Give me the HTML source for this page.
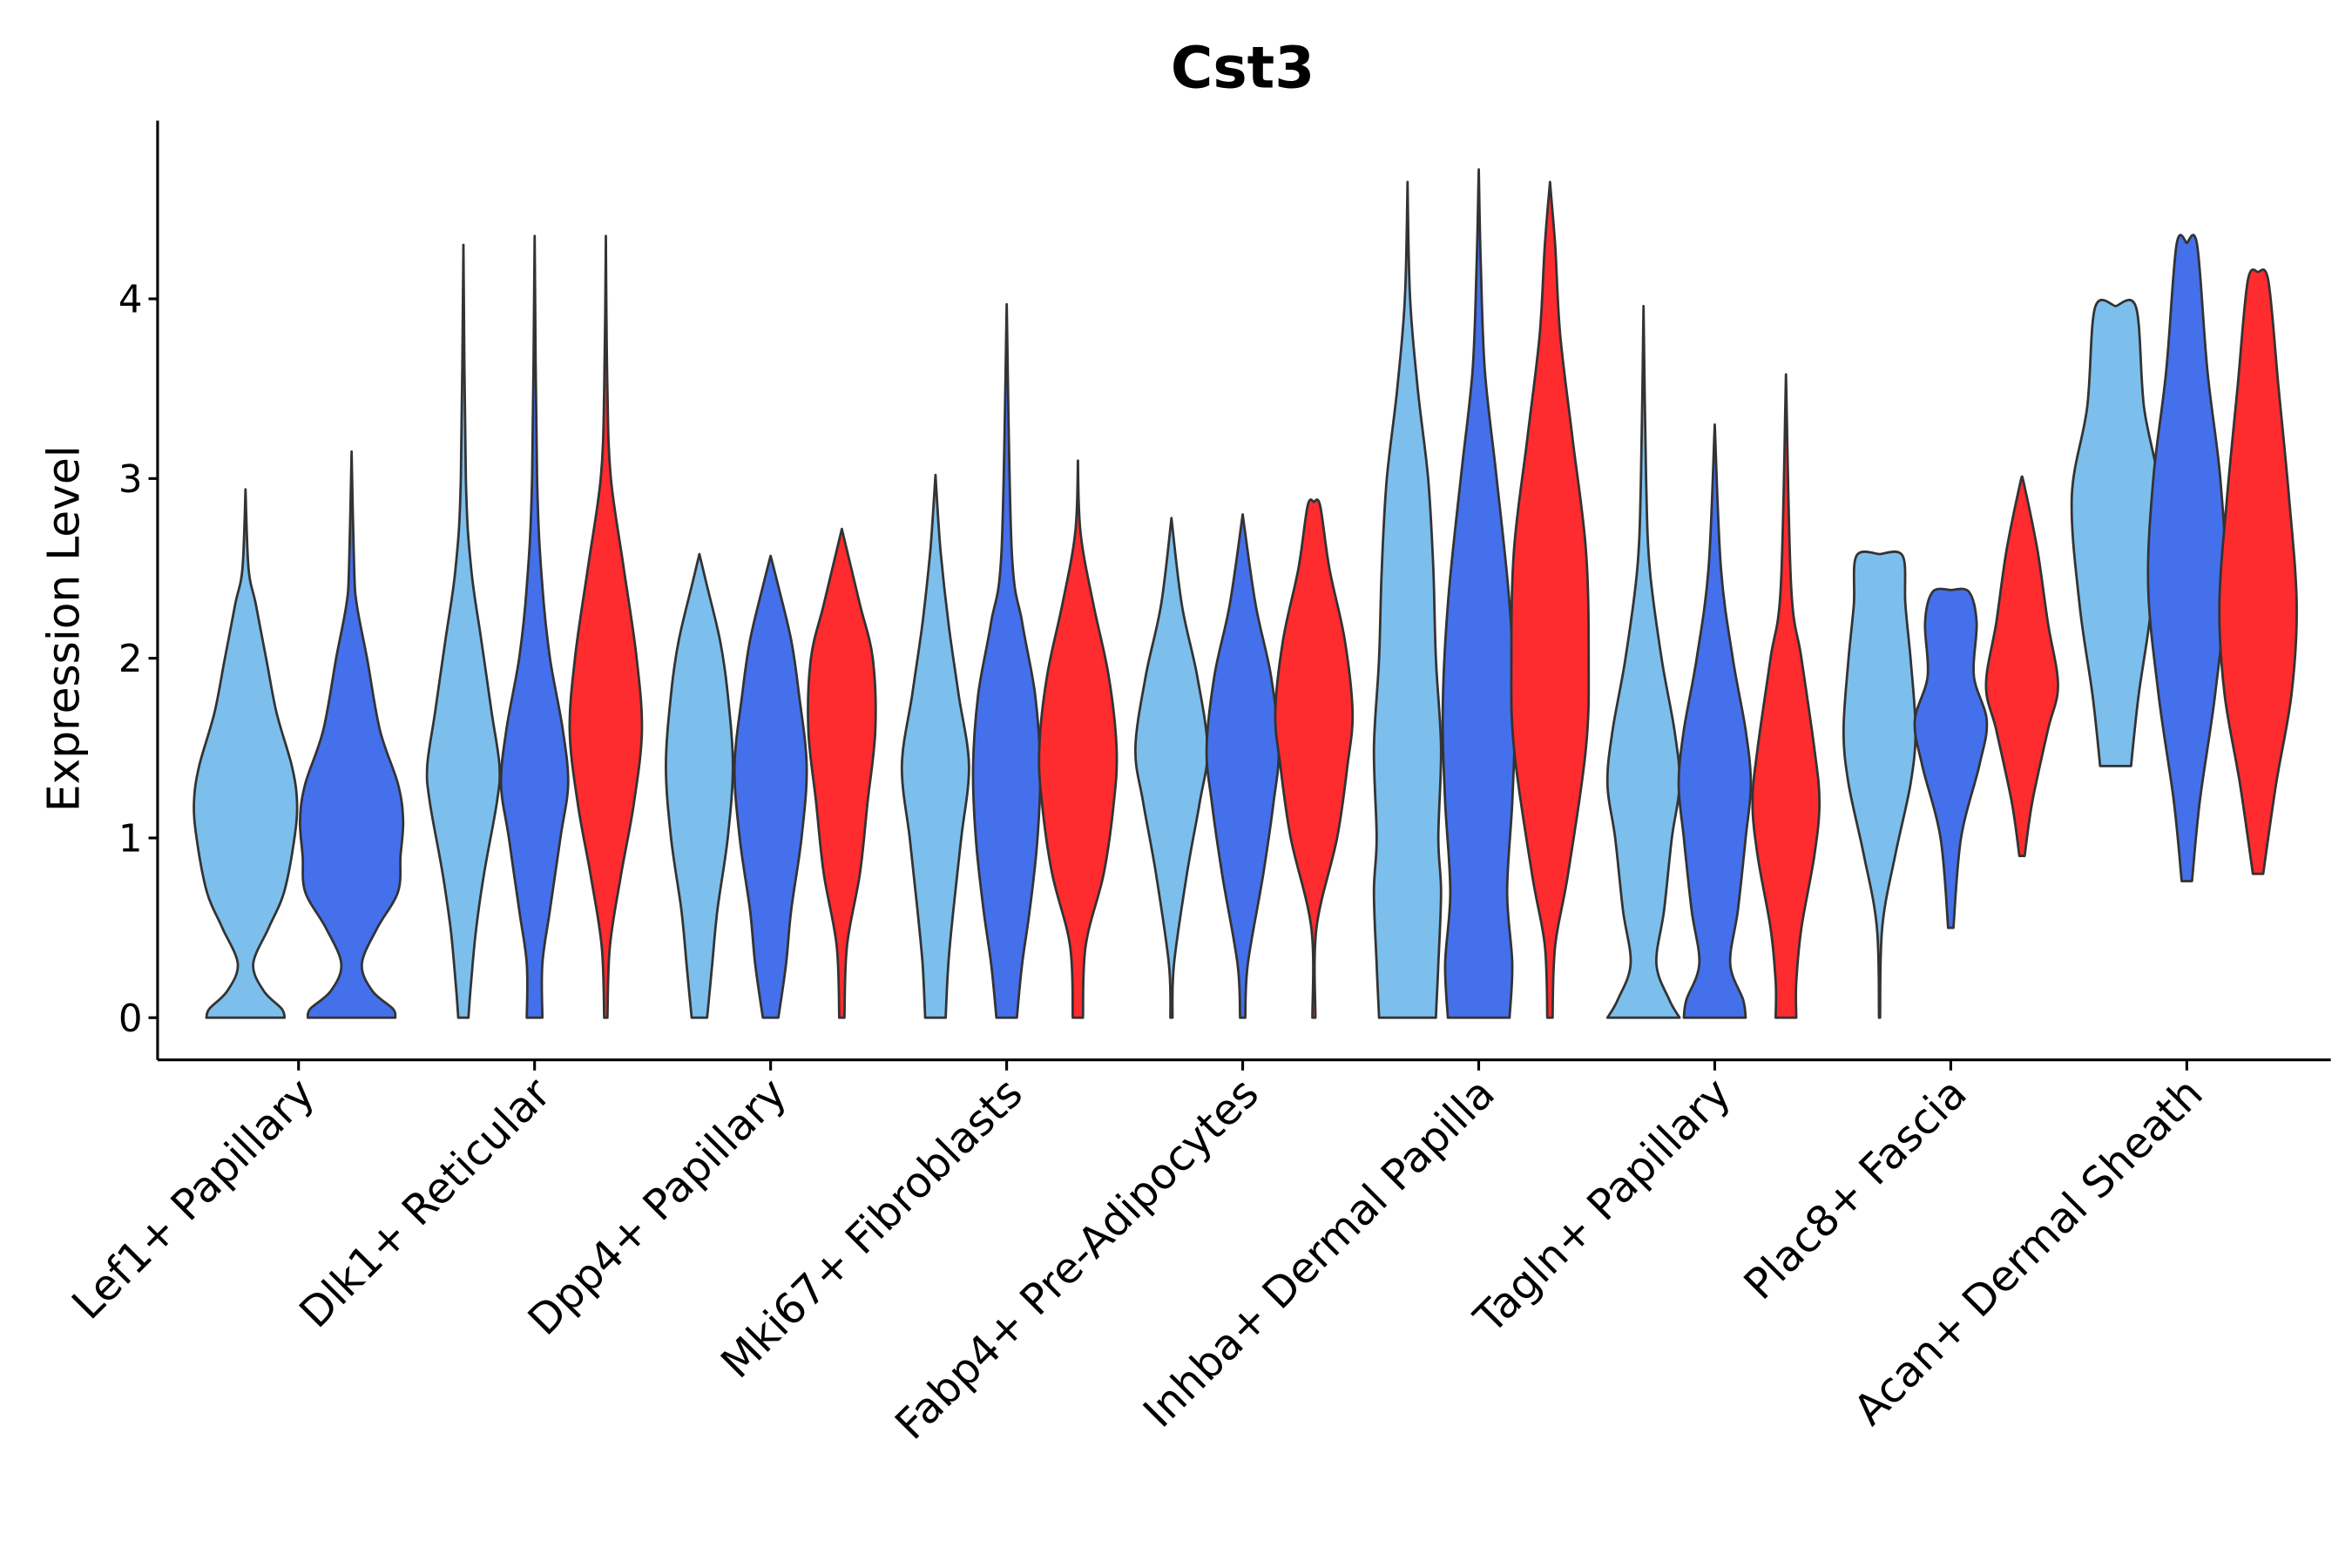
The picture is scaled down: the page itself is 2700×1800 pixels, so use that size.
<!DOCTYPE html>
<html><head><meta charset="utf-8"><style>
html,body{margin:0;padding:0;background:#fff;}
svg{display:block;font-family:"DejaVu Sans","Liberation Sans",sans-serif;}
</style></head><body>
<svg id="chart" width="2700" height="1800" viewBox="0 0 1552 1040" preserveAspectRatio="none" xmlns="http://www.w3.org/2000/svg">
<text x="820" y="58" text-anchor="middle" font-size="38" font-weight="bold">Cst3</text>
<text transform="translate(52,417) rotate(-90)" text-anchor="middle" font-size="29">Expression Level</text>
<g id="marks"></g>
<g id="axes"></g>
</svg>
<script>
const categories = ["Lef1+ Papillary","Dlk1+ Reticular","Dpp4+ Papillary","Mki67+ Fibroblasts","Fabp4+ Pre-Adipocytes","Inhba+ Dermal Papilla","Tagln+ Papillary","Plac8+ Fascia","Acan+ Dermal Sheath"];
const seriesNames = ["group-a","group-b","group-c"];
const seriesColors = ["#7dbfec","#4570eb","#fe2b2f"];
const yTicks = [0,1,2,3,4];
const violinLef1A = [[0,0.76],[0.05,0.7],[0.15,0.35],[0.3,0.15],[0.5,0.45],[0.7,0.75],[1,0.95],[1.2,1.0],[1.4,0.9],[1.7,0.6],[2,0.4],[2.3,0.2],[2.5,0.06],[2.94,0]];
const violinLef1B = [[0,0.85],[0.05,0.8],[0.15,0.4],[0.3,0.2],[0.5,0.5],[0.7,0.9],[0.9,0.95],[1.1,1.0],[1.3,0.9],[1.6,0.55],[2,0.3],[2.3,0.1],[2.5,0.05],[3.15,0]];
const violinDlk1A = [[0,0.1],[0.2,0.15],[0.5,0.25],[0.8,0.4],[1.2,0.65],[1.4,0.7],[1.7,0.55],[2.1,0.35],[2.5,0.15],[3,0.05],[4.3,0]];
const violinDlk1B = [[0,0.15],[0.3,0.15],[0.6,0.3],[1,0.5],[1.3,0.65],[1.6,0.55],[2,0.3],[2.4,0.15],[3,0.05],[4.35,0]];
const violinDlk1C = [[0,0.03],[0.4,0.08],[0.8,0.3],[1.2,0.55],[1.6,0.7],[2,0.6],[2.5,0.35],[3,0.1],[3.5,0.03],[4.35,0]];
const violinDpp4A = [[0,0.15],[0.3,0.25],[0.6,0.35],[1,0.55],[1.4,0.65],[1.8,0.55],[2.1,0.4],[2.4,0.15],[2.58,0]];
const violinDpp4B = [[0,0.15],[0.3,0.3],[0.6,0.4],[1,0.6],[1.4,0.7],[1.8,0.55],[2.1,0.4],[2.4,0.15],[2.57,0]];
const violinDpp4C = [[0,0.05],[0.4,0.1],[0.8,0.35],[1.2,0.5],[1.6,0.65],[2,0.6],[2.3,0.35],[2.6,0.1],[2.72,0]];
const violinMki67A = [[0,0.2],[0.3,0.25],[0.6,0.35],[1,0.5],[1.4,0.65],[1.8,0.45],[2.2,0.25],[2.6,0.1],[3.02,0]];
const violinMki67B = [[0,0.2],[0.3,0.3],[0.6,0.45],[1,0.6],[1.4,0.65],[1.8,0.55],[2.2,0.3],[2.6,0.1],[3.97,0]];
const violinMki67C = [[0,0.1],[0.4,0.15],[0.8,0.5],[1.2,0.7],[1.5,0.75],[1.9,0.6],[2.3,0.3],[2.7,0.05],[3.1,0]];
const violinFabp4A = [[0,0.02],[0.3,0.05],[0.8,0.3],[1.2,0.55],[1.5,0.7],[1.9,0.5],[2.3,0.2],[2.78,0]];
const violinFabp4B = [[0,0.05],[0.3,0.1],[0.8,0.4],[1.2,0.6],[1.5,0.7],[1.9,0.55],[2.3,0.25],[2.8,0]];
const violinFabp4C = [[0,0.03],[0.5,0.05],[1,0.45],[1.4,0.65],[1.7,0.75],[2.1,0.6],[2.5,0.3],[2.85,0.12],[2.87,0]];
const violinInhbaA = [[0,0.55],[0.3,0.6],[0.7,0.65],[1,0.6],[1.5,0.65],[2,0.55],[2.5,0.5],[3,0.4],[3.5,0.2],[4,0.05],[4.65,0]];
const violinInhbaB = [[0,0.6],[0.3,0.65],[0.7,0.55],[1.2,0.65],[1.7,0.7],[2.3,0.6],[3,0.35],[3.6,0.12],[4.2,0.04],[4.72,0]];
const violinInhbaC = [[0,0.05],[0.4,0.1],[0.8,0.35],[1.5,0.7],[2,0.75],[2.6,0.7],[3.2,0.45],[3.8,0.2],[4.3,0.1],[4.65,0]];
const violinTaglnA = [[0,0.7],[0.1,0.5],[0.3,0.25],[0.6,0.4],[1,0.55],[1.3,0.7],[1.6,0.6],[2,0.35],[2.5,0.12],[3,0.05],[3.96,0]];
const violinTaglnB = [[0,0.6],[0.1,0.55],[0.3,0.3],[0.6,0.45],[1,0.6],[1.3,0.7],[1.6,0.6],[2,0.35],[2.5,0.12],[3.3,0]];
const violinTaglnC = [[0,0.2],[0.2,0.2],[0.5,0.3],[0.9,0.55],[1.2,0.65],[1.5,0.55],[2,0.3],[2.4,0.1],[3.58,0]];
const violinPlac8A = [[0,0.01],[0.5,0.05],[0.9,0.3],[1.3,0.6],[1.6,0.7],[2,0.6],[2.3,0.5],[2.57,0.45],[2.58,0]];
const violinPlac8B = [[0.5,0.05],[1,0.2],[1.4,0.55],[1.65,0.7],[1.9,0.45],[2.2,0.5],[2.37,0.35],[2.38,0]];
const violinPlac8C = [[0.9,0.05],[1.2,0.2],[1.6,0.5],[1.85,0.7],[2.2,0.5],[2.6,0.3],[2.98,0.03],[2.99,0]];
const violinAcanA = [[1.4,0.3],[1.8,0.45],[2.3,0.7],[2.9,0.85],[3.4,0.55],[3.95,0.4],[3.96,0]];
const violinAcanB = [[0.76,0.1],[1.2,0.25],[1.8,0.55],[2.4,0.75],[3,0.65],[3.6,0.4],[4.3,0.2],[4.31,0]];
const violinAcanC = [[0.8,0.1],[1.3,0.35],[1.8,0.65],[2.3,0.75],[2.9,0.6],[3.5,0.4],[4.1,0.2],[4.15,0]];
const violins = [
 [0,0,violinLef1A],[0,1,violinLef1B],
 [1,0,violinDlk1A],[1,1,violinDlk1B],[1,2,violinDlk1C],
 [2,0,violinDpp4A],[2,1,violinDpp4B],[2,2,violinDpp4C],
 [3,0,violinMki67A],[3,1,violinMki67B],[3,2,violinMki67C],
 [4,0,violinFabp4A],[4,1,violinFabp4B],[4,2,violinFabp4C],
 [5,0,violinInhbaA],[5,1,violinInhbaB],[5,2,violinInhbaC],
 [6,0,violinTaglnA],[6,1,violinTaglnB],[6,2,violinTaglnC],
 [7,0,violinPlac8A],[7,1,violinPlac8B],[7,2,violinPlac8C],
 [8,0,violinAcanA],[8,1,violinAcanB],[8,2,violinAcanC]
];
const NS="http://www.w3.org/2000/svg";
const L=104,R=1538,T=80,B=703;
function yScale(v){return 675 - v*119.2;}
function xScale(i){return 197 + i*155.75;}
const halfUnit=34;
const marks=document.getElementById('marks');
const axes=document.getElementById('axes');
function smooth(pts){
  let d='';
  for(let i=0;i<pts.length-1;i++){
    const p0=pts[Math.max(0,i-1)],p1=pts[i],p2=pts[i+1],p3=pts[Math.min(pts.length-1,i+2)];
    const c1=[p1[0]+(p2[0]-p0[0])/6,p1[1]+(p2[1]-p0[1])/6];
    const c2=[p2[0]-(p3[0]-p1[0])/6,p2[1]-(p3[1]-p1[1])/6];
    d+='C'+c1[0].toFixed(1)+','+c1[1].toFixed(1)+' '+c2[0].toFixed(1)+','+c2[1].toFixed(1)+' '+p2[0].toFixed(1)+','+p2[1].toFixed(1);
  }
  return d;
}
violins.forEach(v=>{
  const ci=v[0], si=v[1], prof=v[2];
  const present=violins.filter(w=>w[0]===ci).map(w=>w[1]);
  const n=present.length, k=present.indexOf(si);
  const off = n===3 ? (k-1)*47 : (k-0.5)*70;
  const cx=xScale(ci)+off;
  const right=prof.map(p=>[cx+p[1]*halfUnit,yScale(p[0])]);
  const left=prof.map(p=>[cx-p[1]*halfUnit,yScale(p[0])]).reverse();
  const d='M'+right[0][0].toFixed(1)+','+right[0][1].toFixed(1)+smooth(right)+'L'+left[0][0].toFixed(1)+','+left[0][1].toFixed(1)+smooth(left)+'Z';
  const path=document.createElementNS(NS,'path');
  path.setAttribute('d',d);
  path.setAttribute('fill',seriesColors[si]);
  path.setAttribute('stroke','#333');
  path.setAttribute('stroke-width','1.6');
  path.setAttribute('stroke-linejoin','round');
  
  
  marks.appendChild(path);
});
function line(x1,y1,x2,y2,name){const l=document.createElementNS(NS,'line');l.setAttribute('x1',x1);l.setAttribute('y1',y1);l.setAttribute('x2',x2);l.setAttribute('y2',y2);l.setAttribute('stroke','#000');l.setAttribute('stroke-width','1.8');
  
  
  axes.appendChild(l);}
line(L,T,L,B,'y-axis-line');
line(L,B,R,B,'x-axis-line');
yTicks.forEach(t=>{
  const y=yScale(t);
  line(L-6,y,L,y,'y-tick');
  const tx=document.createElementNS(NS,'text');
  tx.setAttribute('x',L-10);tx.setAttribute('y',y+9);tx.setAttribute('text-anchor','end');tx.setAttribute('font-size','25');
  tx.textContent=t;
  
  
  axes.appendChild(tx);
});
categories.forEach((c,i)=>{
  const x=xScale(i);
  line(x,B,x,B+7,'x-tick');
  const tx=document.createElementNS(NS,'text');
  tx.setAttribute('transform','translate('+(x+12)+','+(B+24)+') rotate(-45)');
  tx.setAttribute('text-anchor','end');tx.setAttribute('font-size','28');
  tx.textContent=c;
  
  
  axes.appendChild(tx);
});
</script>
</body></html>
